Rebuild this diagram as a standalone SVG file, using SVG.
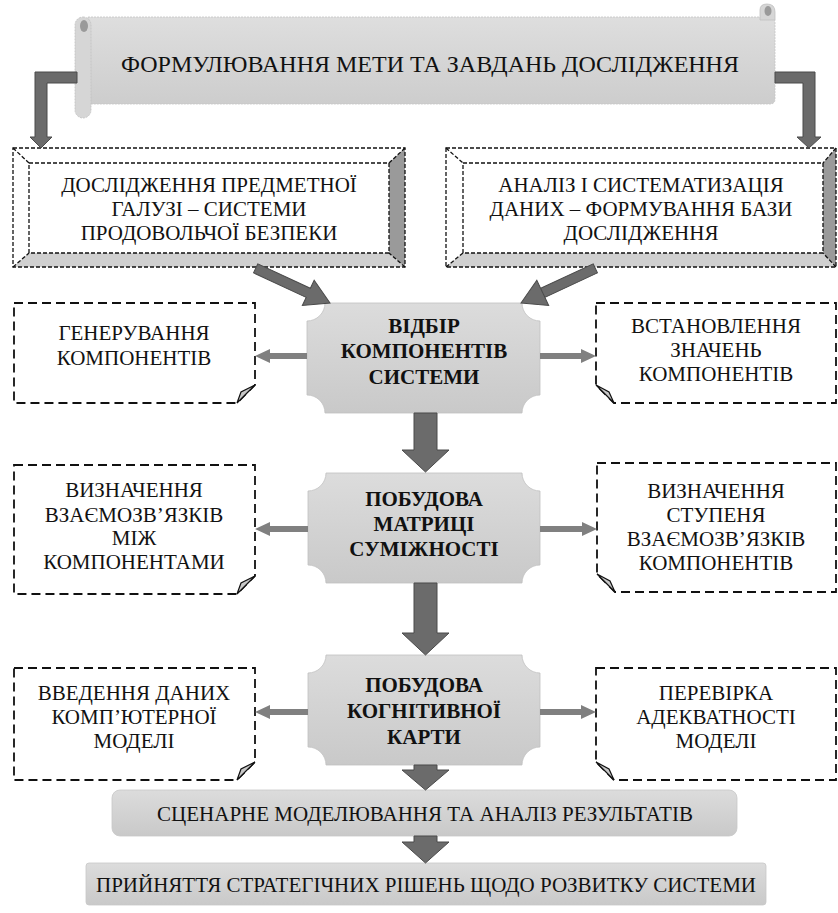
<svg xmlns="http://www.w3.org/2000/svg" width="838" height="913" viewBox="0 0 838 913">
<defs>
<linearGradient id="gNode" x1="0" y1="0" x2="0" y2="1"><stop offset="0" stop-color="#dcdcdc"/><stop offset="1" stop-color="#c9c9c9"/></linearGradient>
<linearGradient id="gBan" x1="0" y1="0" x2="0" y2="1"><stop offset="0" stop-color="#dedede"/><stop offset="1" stop-color="#cdcdcd"/></linearGradient>
<style>
.t{font-family:'Liberation Serif','Times New Roman',serif;font-size:21px;fill:#111;text-anchor:middle}
.b{font-weight:bold}
.big{fill:#6b6b6b;stroke:#4a4a4a;stroke-width:1}
.sm{fill:#808080}
.node{fill:url(#gNode);stroke:#c0c0c0;stroke-width:0.8}
.dbox{fill:#fff;stroke:#111;stroke-width:1.8;stroke-dasharray:9 5}
.fold{fill:#c8c8c8;stroke:#111;stroke-width:1.2}
.bo{fill:none;stroke:#111;stroke-width:1.3;stroke-dasharray:4 2}
</style>
</defs>
<rect width="838" height="913" fill="#fff"/>

<g id="banner">
<path d="M88 17 H770 Q775 17 775 22 V99 Q775 104 770 104 H88 Z" fill="url(#gBan)" stroke="#c4c4c4" stroke-width="0.8" stroke-dasharray="2 1"/>
<rect x="75" y="17" width="16" height="101" rx="8" fill="#d6d6d6" stroke="#c0c0c0" stroke-width="0.8" stroke-dasharray="2 1"/>
<ellipse cx="84" cy="26" rx="4" ry="6" fill="#9a9a9a"/>
<path d="M760 20 V10 Q760 4 767 4 Q775 4 775 12 V20 Z" fill="#d6d6d6" stroke="#c0c0c0" stroke-width="0.8"/>
<ellipse cx="768" cy="11" rx="3.5" ry="5" fill="#9a9a9a"/>
<text class="t" x="430" y="72" style="font-size:24px">ФОРМУЛЮВАННЯ МЕТИ ТА ЗАВДАНЬ ДОСЛІДЖЕННЯ</text>
</g>

<g id="research">
<rect x="13" y="148" width="392" height="119" fill="#fff"/>
<polygon points="389,163 405,148 405,267 389,253" fill="#9a9a9a"/>
<polygon points="29,253 389,253 405,267 13,267" fill="#d0d0d0"/>
<rect class="bo" x="13" y="148" width="392" height="119"/>
<rect class="bo" x="29" y="163" width="360" height="90"/>
<line class="bo" x1="13" y1="148" x2="29" y2="163"/>
<line class="bo" x1="405" y1="148" x2="389" y2="163"/>
<line class="bo" x1="13" y1="267" x2="29" y2="253"/>
<line class="bo" x1="405" y1="267" x2="389" y2="253"/>
<text class="t" x="209" y="192">ДОСЛІДЖЕННЯ ПРЕДМЕТНОЇ</text>
<text class="t" x="209" y="216">ГАЛУЗІ – СИСТЕМИ</text>
<text class="t" x="209" y="240">ПРОДОВОЛЬЧОЇ БЕЗПЕКИ</text>
</g>

<g id="analysis">
<rect x="446" y="148" width="390" height="119" fill="#fff"/>
<polygon points="823,163 836,148 836,267 823,253" fill="#9a9a9a"/>
<polygon points="463,253 823,253 836,267 446,267" fill="#d0d0d0"/>
<rect class="bo" x="446" y="148" width="390" height="119"/>
<rect class="bo" x="463" y="163" width="360" height="90"/>
<line class="bo" x1="446" y1="148" x2="463" y2="163"/>
<line class="bo" x1="836" y1="148" x2="823" y2="163"/>
<line class="bo" x1="446" y1="267" x2="463" y2="253"/>
<line class="bo" x1="836" y1="267" x2="823" y2="253"/>
<text class="t" x="641" y="192">АНАЛІЗ І СИСТЕМАТИЗАЦІЯ</text>
<text class="t" x="641" y="216">ДАНИХ – ФОРМУВАННЯ БАЗИ</text>
<text class="t" x="641" y="240">ДОСЛІДЖЕННЯ</text>
</g>

<g id="node1">
<path class="node" d="M325 303 H522 A18 18 0 0 0 540 321 V395 A18 18 0 0 0 522 413 H325 A18 18 0 0 0 307 395 V321 A18 18 0 0 0 325 303 Z"/>
<text class="t b" x="424" y="333">ВІДБІР</text>
<text class="t b" x="424" y="358">КОМПОНЕНТІВ</text>
<text class="t b" x="424" y="384">СИСТЕМИ</text>
</g>

<g id="gen">
<path class="dbox" d="M14 303 H255 V385 L237 403 H14 Z"/>
<polygon class="fold" points="237,403 241,392 255,385"/>
<text class="t" x="134" y="340">ГЕНЕРУВАННЯ</text>
<text class="t" x="134" y="365">КОМПОНЕНТІВ</text>
</g>

<g id="values">
<path class="dbox" d="M596 303 H836 V403 H614 L596 385 Z"/>
<polygon class="fold" points="614,403 609,392 596,385"/>
<text class="t" x="716" y="333">ВСТАНОВЛЕННЯ</text>
<text class="t" x="716" y="357">ЗНАЧЕНЬ</text>
<text class="t" x="716" y="381">КОМПОНЕНТІВ</text>
</g>

<g id="node2">
<path class="node" d="M326 473 H522 A18 18 0 0 0 540 491 V565 A18 18 0 0 0 522 583 H326 A18 18 0 0 0 308 565 V491 A18 18 0 0 0 326 473 Z"/>
<text class="t b" x="424" y="506">ПОБУДОВА</text>
<text class="t b" x="424" y="531">МАТРИЦІ</text>
<text class="t b" x="424" y="556">СУМІЖНОСТІ</text>
</g>

<g id="links">
<path class="dbox" d="M14 465 H255 V576 L237 594 H14 Z"/>
<polygon class="fold" points="237,594 241,583 255,576"/>
<text class="t" x="134" y="497">ВИЗНАЧЕННЯ</text>
<text class="t" x="134" y="522">ВЗАЄМОЗВ’ЯЗКІВ</text>
<text class="t" x="134" y="545">МІЖ</text>
<text class="t" x="134" y="569">КОМПОНЕНТАМИ</text>
</g>

<g id="degree">
<path class="dbox" d="M597 463 H836 V592 H615 L597 574 Z"/>
<polygon class="fold" points="615,592 610,581 597,574"/>
<text class="t" x="716" y="498">ВИЗНАЧЕННЯ</text>
<text class="t" x="716" y="522">СТУПЕНЯ</text>
<text class="t" x="716" y="546">ВЗАЄМОЗВ’ЯЗКІВ</text>
<text class="t" x="716" y="570">КОМПОНЕНТІВ</text>
</g>

<g id="node3">
<path class="node" d="M326 655 H522 A18 18 0 0 0 540 673 V747 A18 18 0 0 0 522 765 H326 A18 18 0 0 0 308 747 V673 A18 18 0 0 0 326 655 Z"/>
<text class="t b" x="424" y="692">ПОБУДОВА</text>
<text class="t b" x="424" y="718">КОГНІТИВНОЇ</text>
<text class="t b" x="424" y="744">КАРТИ</text>
</g>

<g id="input">
<path class="dbox" d="M14 668 H255 V762 L237 780 H14 Z"/>
<polygon class="fold" points="237,780 241,769 255,762"/>
<text class="t" x="134" y="700">ВВЕДЕННЯ ДАНИХ</text>
<text class="t" x="134" y="724">КОМП’ЮТЕРНОЇ</text>
<text class="t" x="134" y="748">МОДЕЛІ</text>
</g>

<g id="check">
<path class="dbox" d="M596 668 H836 V780 H614 L596 762 Z"/>
<polygon class="fold" points="614,780 609,769 596,762"/>
<text class="t" x="716" y="700">ПЕРЕВІРКА</text>
<text class="t" x="716" y="724">АДЕКВАТНОСТІ</text>
<text class="t" x="716" y="748">МОДЕЛІ</text>
</g>

<g id="scenario">
<rect x="112" y="790" width="625" height="46" rx="8" fill="url(#gNode)" stroke="#c8c8c8" stroke-width="0.8"/>
<text class="t" x="425" y="821">СЦЕНАРНЕ МОДЕЛЮВАННЯ ТА АНАЛІЗ РЕЗУЛЬТАТІВ</text>
</g>

<g id="decision">
<rect x="86" y="863" width="680" height="42" rx="3" fill="url(#gNode)" stroke="#c8c8c8" stroke-width="0.8"/>
<text class="t" x="426" y="892">ПРИЙНЯТТЯ СТРАТЕГІЧНИХ РІШЕНЬ ЩОДО РОЗВИТКУ СИСТЕМИ</text>
</g>

<g id="connectors">
<polygon class="big" points="77,72 35,72 35,137 30,137 41,148 52,137 47,137 47,83 77,83"/>
<polygon class="big" points="775,72 815,72 815,137 821,137 809,148 797,137 803,137 803,83 775,83"/>
<polygon class="big" transform="translate(330 303) rotate(25)" points="0,0 -24,-14 -24,-5 -82,-5 -82,5 -24,5 -24,14"/>
<polygon class="big" transform="translate(521 303) rotate(155)" points="0,0 -24,-14 -24,5 -82,5 -82,-5 -24,-5 -24,14"/>
<polygon class="big" points="414,413 437,413 437,450 449,450 425.5,472 402,450 414,450"/>
<polygon class="big" points="414,583 437,583 437,633 449,633 425.5,655 402,633 414,633"/>
<polygon class="big" points="414,765 437,765 437,770 449,770 425.5,790 402,770 414,770"/>
<polygon class="big" points="414,836 437,836 437,842 449,842 425.5,863 402,842 414,842"/>
<polygon class="sm" points="307,353 270,353 270,349 255,356 270,363 270,359 307,359"/>
<polygon class="sm" points="540,353 581,353 581,349 596,356 581,363 581,359 540,359"/>
<polygon class="sm" points="308,526 270,526 270,522 255,529 270,536 270,532 308,532"/>
<polygon class="sm" points="540,526 582,526 582,522 597,529 582,536 582,532 540,532"/>
<polygon class="sm" points="308,709 270,709 270,705 255,712 270,719 270,715 308,715"/>
<polygon class="sm" points="540,709 581,709 581,705 596,712 581,719 581,715 540,715"/>
</g>
</svg>
